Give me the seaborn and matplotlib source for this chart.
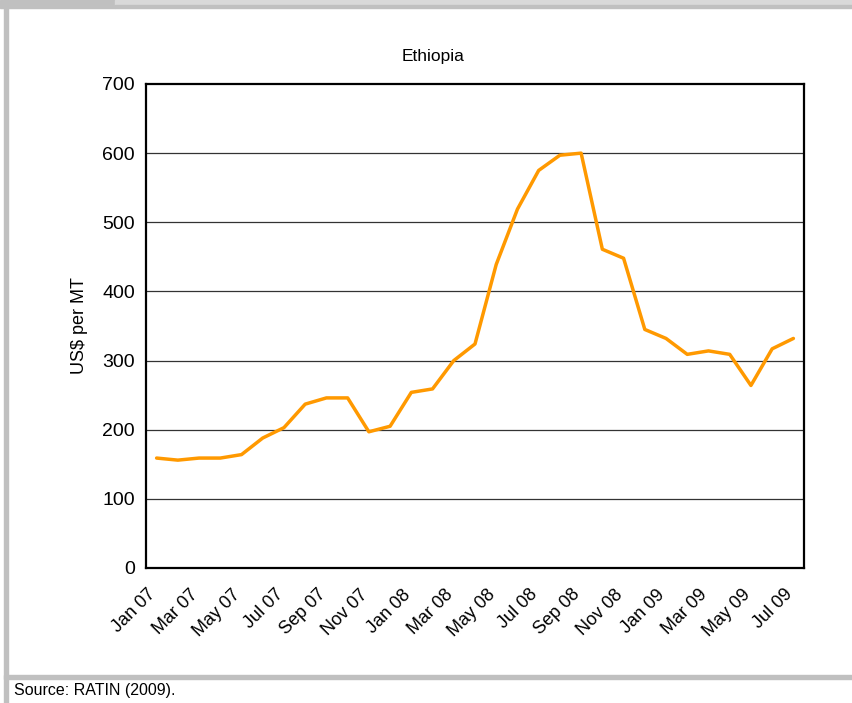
import numpy as np
import pandas as pd
import seaborn as sns
import matplotlib.pyplot as plt
from matplotlib.patches import Rectangle

months = ['Jan', 'Feb', 'Mar', 'Apr', 'May', 'Jun', 'Jul', 'Aug', 'Sep', 'Oct', 'Nov', 'Dec']
periods = [f'{m} {y}' for y in ['07', '08'] for m in months] + [f'{m} 09' for m in months[:7]]

prices = [159, 156, 159, 159, 164, 188, 203, 237, 246, 246, 197, 205,
          254, 259, 300, 324, 439, 519, 575, 597, 600, 461, 448, 345,
          332, 309, 314, 309, 264, 317, 332]

df = pd.DataFrame({'idx': np.arange(len(periods)), 'period': periods, 'price': prices})

sns.set_style('white')
plt.rcParams['font.family'] = ['Liberation Sans Narrow', 'Liberation Sans', 'DejaVu Sans']
plt.rcParams['text.color'] = 'black'
plt.rcParams['axes.labelcolor'] = 'black'
plt.rcParams['xtick.color'] = 'black'
plt.rcParams['ytick.color'] = 'black'

fig = plt.figure(figsize=(8.53, 7.03), dpi=100)

# frame / header decoration
W, H = 853, 703
def px(x, y, w, h, color):
    fig.patches.append(Rectangle((x / W, 1 - (y + h) / H), w / W, h / H,
                                 transform=fig.transFigure, color=color, zorder=0))
px(0, 0, 115, 8, '#c0c0c0')
px(115, 0, 738, 5, '#d9d9d9')
px(115, 5, 738, 3, '#c0c0c0')
px(4, 8, 4, 695, '#c0c0c0')
px(4, 675, 849, 4, '#c0c0c0')

ax = fig.add_axes([146 / W, 1 - 568 / H, (804 - 146) / W, (568 - 84) / H])
sns.lineplot(data=df, x='idx', y='price', ax=ax, color='#ff9900', linewidth=2.5)

ax.set_xlim(-0.5, len(periods) - 0.5)
ax.set_ylim(0, 700)
ax.set_yticks(range(0, 701, 100))
# tick marks sit between months, labels on every other month (nudged left like Excel)
ax.set_xticks(np.arange(-0.5, len(periods), 1))
ax.set_xticklabels([])
ax.set_xticks(np.arange(0, len(periods), 2) - 0.45, minor=True)
ax.set_xticklabels(periods[::2], minor=True, rotation=45, ha='right',
                   rotation_mode='anchor', fontsize=13)
ax.tick_params(axis='x', which='major', length=6, width=1.5, direction='out')
ax.tick_params(axis='x', which='minor', length=0, pad=13)
ax.tick_params(axis='y', length=5, width=1.5, direction='out', labelsize=14, pad=3)
for s in ax.spines.values():
    s.set_color('black')
    s.set_linewidth(1.6)
for v in range(100, 700, 100):
    ax.axhline(v, color='#333333', linewidth=0.9, zorder=0)

ax.set_xlabel('')
ax.set_ylabel('US$ per MT', fontsize=13, labelpad=10)
fig.text(433 / W, 1 - 57 / H, 'Ethiopia', ha='center', va='center', fontsize=12.5)
fig.text(14 / W, 1 - 691 / H, 'Source: RATIN (2009).', ha='left', va='center', fontsize=11.5)

fig.savefig('out.png', dpi=100)
